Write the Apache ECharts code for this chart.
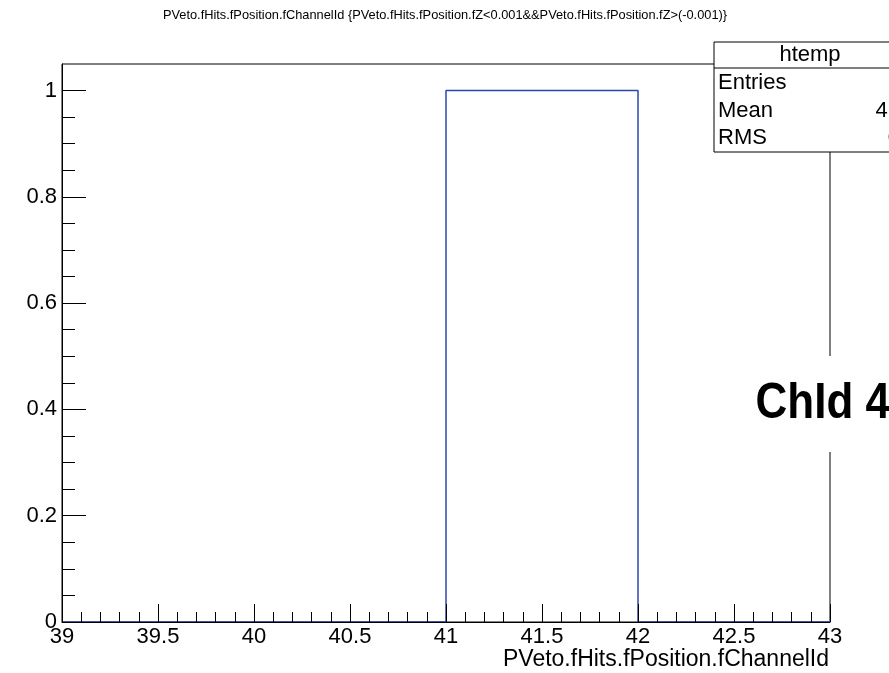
<!DOCTYPE html>
<html>
<head>
<meta charset="utf-8">
<script src="https://cdn.jsdelivr.net/npm/echarts@6/dist/echarts.min.js"></script>
<style>
  html, body { margin: 0; padding: 0; background: #fff; }
  #chart { width: 889px; height: 673px; }
</style>
</head>
<body>
<div id="chart"></div>
<script>
// Histogram: bin edges and per-bin entry counts
const binEdges = [39, 40, 41, 42, 43];
const binCounts = [0, 0, 1, 0];

// Axis ticks and labels
const xMajorTicks = [39, 39.5, 40, 40.5, 41, 41.5, 42, 42.5, 43];
const yMajorTicks = [0, 0.2, 0.4, 0.6, 0.8, 1];
const xMinorPerMajor = 5;
const yMinorPerMajor = 4;
const yTop = 1.05;

// Statistics box contents
const statsName = 'htemp';
const statsLabels = ['Entries', 'Mean', 'RMS'];
const statsValues = ['1', '41', '0'];

const titleText = 'PVeto.fHits.fPosition.fChannelId {PVeto.fHits.fPosition.fZ<0.001&&PVeto.fHits.fPosition.fZ>(-0.001)}';
const xTitle = 'PVeto.fHits.fPosition.fChannelId';
const noteText = 'ChId 4';

function minorTicks(majors, parts) {
  const out = [];
  for (let i = 0; i < majors.length - 1; i++) {
    const a = majors[i], b = majors[i + 1];
    for (let k = 1; k < parts; k++) {
      out.push(+(a + (b - a) * k / parts).toFixed(6));
    }
  }
  return out;
}

// Outline points for a step line: each bin's left edge carries its count,
// the last edge repeats the final count.
const stepData = binEdges.map((e, i) => [e, binCounts[Math.min(i, binCounts.length - 1)]]);

const FONT = '"Liberation Sans", Arial, Helvetica, sans-serif';
const chart = echarts.init(document.getElementById('chart'), null, { renderer: 'canvas' });

const axisCommon = {
  type: 'value',
  splitLine: { show: false },
};

const statsX = 714, statsY = 42, statsW = 260, rowH = 27.5;
const statsGraphics = [
  { type: 'rect', shape: { x: statsX, y: statsY, width: statsW, height: 110 },
    style: { fill: '#fff', stroke: '#000', lineWidth: 1 }, z: 10 },
  { type: 'line', shape: { x1: statsX, y1: statsY + 26, x2: statsX + statsW, y2: statsY + 26 },
    style: { stroke: '#000', lineWidth: 1 }, z: 11 },
  { type: 'text', x: statsX + 96, y: statsY + 13, z: 11,
    style: { text: statsName, font: '22px ' + FONT, fill: '#000', align: 'center', verticalAlign: 'middle' } }
];
statsLabels.forEach((lab, i) => {
  statsGraphics.push({ type: 'text', x: statsX + 4, y: statsY + 41 + i * rowH, z: 11,
    style: { text: lab, font: '22px ' + FONT, fill: '#000', align: 'left', verticalAlign: 'middle' } });
  statsGraphics.push({ type: 'text', x: 900, y: statsY + 41 + i * rowH, z: 11,
    style: { text: statsValues[i], font: '22px ' + FONT, fill: '#000', align: 'right', verticalAlign: 'middle' } });
});

chart.setOption({
  animation: false,
  backgroundColor: '#fff',
  grid: { left: 62, right: 59, top: 64, bottom: 51, show: true, borderColor: '#000', borderWidth: 1, backgroundColor: 'transparent' },
  xAxis: [
    Object.assign({}, axisCommon, {
      min: binEdges[0], max: binEdges[binEdges.length - 1], z: 5,
      axisLine: { show: true, onZero: false, lineStyle: { color: '#000', width: 1 } },
      axisTick: { show: true, inside: true, length: 18, customValues: xMajorTicks, lineStyle: { color: '#000', width: 1 } },
      axisLabel: { show: true, customValues: xMajorTicks, fontSize: 22, fontFamily: FONT, color: '#000', margin: 4 }
    }),
    Object.assign({}, axisCommon, {
      min: binEdges[0], max: binEdges[binEdges.length - 1], z: 5, position: 'bottom',
      axisLine: { show: false },
      axisTick: { show: true, inside: true, length: 10, customValues: minorTicks(xMajorTicks, xMinorPerMajor), lineStyle: { color: '#000', width: 1 } },
      axisLabel: { show: false }
    })
  ],
  yAxis: [
    Object.assign({}, axisCommon, {
      min: 0, max: yTop, z: 5,
      axisLine: { show: true, onZero: false, lineStyle: { color: '#000', width: 1 } },
      axisTick: { show: true, inside: true, length: 24, customValues: yMajorTicks, lineStyle: { color: '#000', width: 1 } },
      axisLabel: { show: true, customValues: yMajorTicks, fontSize: 22, fontFamily: FONT, color: '#000', margin: 5 }
    }),
    Object.assign({}, axisCommon, {
      min: 0, max: yTop, z: 5, position: 'left',
      axisLine: { show: false },
      axisTick: { show: true, inside: true, length: 13, customValues: minorTicks(yMajorTicks, yMinorPerMajor), lineStyle: { color: '#000', width: 1 } },
      axisLabel: { show: false }
    })
  ],
  series: [{
    type: 'line',
    xAxisIndex: 0, yAxisIndex: 0,
    step: 'end',
    data: stepData,
    symbol: 'none',
    z: 2,
    lineStyle: { color: '#2b48ab', width: 1.5 },
    clip: false
  }],
  graphic: [
    { type: 'text', x: 445, y: 15, z: 20,
      style: { text: titleText, font: '12.8px ' + FONT, fill: '#000', align: 'center', verticalAlign: 'middle' } },
    { type: 'text', x: 829, y: 660, z: 20,
      style: { text: xTitle, font: '23px ' + FONT, fill: '#000', align: 'right', verticalAlign: 'middle' } },
    { type: 'text', x: 752, y: 404, z: 20, scaleX: 0.88, originX: 0,
      style: { text: noteText, font: 'bold 50px ' + FONT, fill: '#000', align: 'left', verticalAlign: 'middle',
        backgroundColor: '#fff', padding: [23, 4, 23, 4] } }
  ].concat(statsGraphics)
});
</script>
</body>
</html>
